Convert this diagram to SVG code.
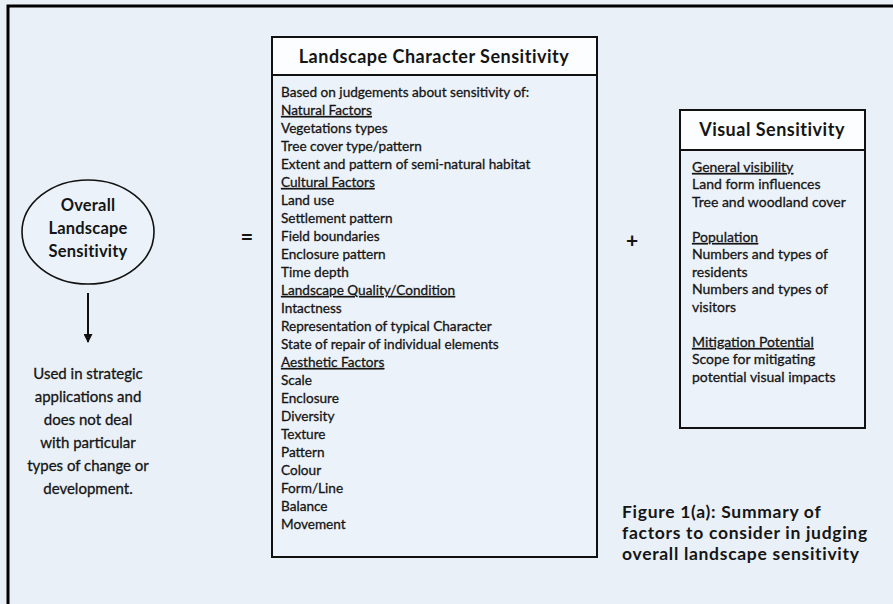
<svg xmlns="http://www.w3.org/2000/svg" width="893" height="604" viewBox="0 0 893 604">
<style>
.t{font-family:Lato,"Liberation Sans",sans-serif;fill:#151515}
.b{font-size:13.6px;stroke:#151515;stroke-width:0.3}
.h{font-size:18px;font-weight:bold;letter-spacing:0.5px}
.u{text-decoration:underline}
.box{fill:#ecf2f9;stroke:#111;stroke-width:2}
.hdr{fill:#fbfdff;stroke:#111;stroke-width:2}
.l{font-size:15px;stroke:#151515;stroke-width:0.3}
.bold{font-weight:bold}
.cap{font-size:17.5px;font-weight:bold;letter-spacing:0.7px}
</style>
<defs>
<marker id="ah" viewBox="0 0 10 10" refX="9" refY="5" markerWidth="12" markerHeight="9" orient="auto" markerUnits="userSpaceOnUse">
<path d="M0,0 L10,5 L0,10 z" fill="#111"/>
</marker>
</defs>
<rect x="0" y="0" width="893" height="604" fill="#e9f0f8"/>
<path d="M8,604 V6 H893" fill="none" stroke="#000" stroke-width="3"/>

<g id="overall">
<ellipse cx="88" cy="232" rx="66" ry="52" fill="#ecf2f9" stroke="#111" stroke-width="1.6"/>
<text class="t h" style="font-size:16.5px;letter-spacing:0.2px" text-anchor="middle" x="88" y="211">Overall</text>
<text class="t h" style="font-size:16.5px;letter-spacing:0.2px" text-anchor="middle" x="88" y="234">Landscape</text>
<text class="t h" style="font-size:16.5px;letter-spacing:0.2px" text-anchor="middle" x="88" y="257">Sensitivity</text>
</g>

<g id="usage">
<text class="t l" text-anchor="middle" x="88" y="379">Used in strategic</text>
<text class="t l" text-anchor="middle" x="88" y="402">applications and</text>
<text class="t l" text-anchor="middle" x="88" y="425">does not deal</text>
<text class="t l" text-anchor="middle" x="88" y="448">with particular</text>
<text class="t l" text-anchor="middle" x="88" y="471">types of change or</text>
<text class="t l" text-anchor="middle" x="88" y="494">development.</text>
</g>

<g id="connectors">
<line x1="88" y1="293" x2="88" y2="342" stroke="#111" stroke-width="2" marker-end="url(#ah)"/>
</g>

<g id="equals">
<text class="t bold" style="font-size:22px" text-anchor="middle" x="247" y="245">=</text>
</g>
<g id="plus">
<text class="t bold" style="font-size:21px" text-anchor="middle" x="632" y="248">+</text>
</g>

<g id="landscape-character">
<rect class="box" x="272" y="37" width="325" height="520"/>
<rect class="hdr" x="272" y="37" width="325" height="38"/>
<text class="t h" text-anchor="middle" x="434" y="63">Landscape Character Sensitivity</text>
<g class="t b">
<text x="281" y="97">Based on judgements about sensitivity of:</text>
<text x="281" y="115" class="u">Natural Factors</text>
<text x="281" y="133">Vegetations types</text>
<text x="281" y="151">Tree cover type/pattern</text>
<text x="281" y="169">Extent and pattern of semi-natural habitat</text>
<text x="281" y="187" class="u">Cultural Factors</text>
<text x="281" y="205">Land use</text>
<text x="281" y="223">Settlement pattern</text>
<text x="281" y="241">Field boundaries</text>
<text x="281" y="259">Enclosure pattern</text>
<text x="281" y="277">Time depth</text>
<text x="281" y="295" class="u">Landscape Quality/Condition</text>
<text x="281" y="313">Intactness</text>
<text x="281" y="331">Representation of typical Character</text>
<text x="281" y="349">State of repair of individual elements</text>
<text x="281" y="367" class="u">Aesthetic Factors</text>
<text x="281" y="385">Scale</text>
<text x="281" y="403">Enclosure</text>
<text x="281" y="421">Diversity</text>
<text x="281" y="439">Texture</text>
<text x="281" y="457">Pattern</text>
<text x="281" y="475">Colour</text>
<text x="281" y="493">Form/Line</text>
<text x="281" y="511">Balance</text>
<text x="281" y="529">Movement</text>
</g>
</g>

<g id="visual">
<rect class="box" x="680" y="110" width="185" height="318"/>
<rect class="hdr" x="680" y="110" width="185" height="40"/>
<text class="t h" text-anchor="middle" x="772" y="136">Visual Sensitivity</text>
<g class="t b" style="font-size:14px">
<text x="692" y="172" class="u">General visibility</text>
<text x="692" y="189">Land form influences</text>
<text x="692" y="207">Tree and woodland cover</text>
<text x="692" y="242" class="u">Population</text>
<text x="692" y="259">Numbers and types of</text>
<text x="692" y="277">residents</text>
<text x="692" y="294">Numbers and types of</text>
<text x="692" y="312">visitors</text>
<text x="692" y="347" class="u">Mitigation Potential</text>
<text x="692" y="364">Scope for mitigating</text>
<text x="692" y="382">potential visual impacts</text>
</g>
</g>

<g id="caption">
<text class="t cap" x="622" y="518">Figure 1(a): Summary of</text>
<text class="t cap" x="622" y="539">factors to consider in judging</text>
<text class="t cap" x="622" y="560">overall landscape sensitivity</text>
</g>
</svg>
